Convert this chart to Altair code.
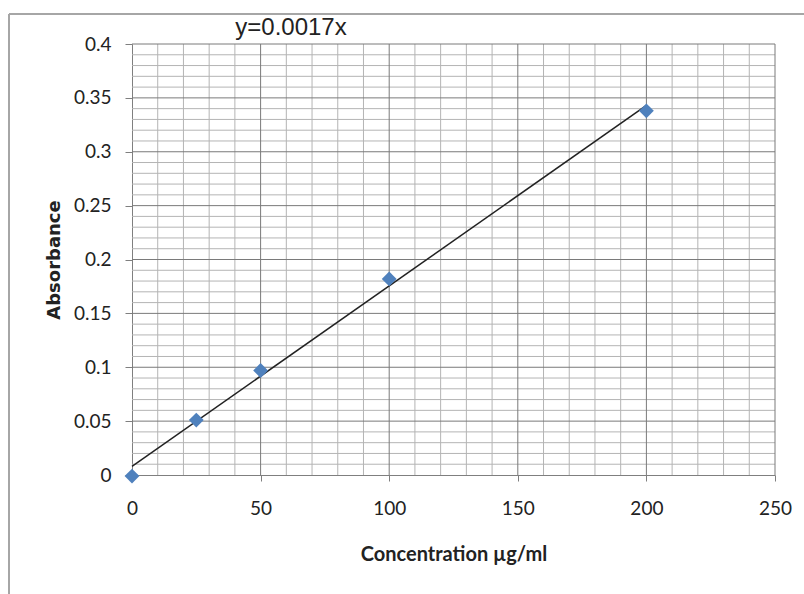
import altair as alt
import pandas as pd

# Measured data (concentration in µg/ml, absorbance)
conc = [0, 25, 50, 100, 200]
absorb = [-0.001, 0.051, 0.097, 0.182, 0.338]

# Linear trendline endpoints as drawn
trend_x = [0, 200]
trend_y = [0.008, 0.343]

# Axis ticks / grid positions
x_major = [0, 50, 100, 150, 200, 250]
x_minor = [v for v in range(10, 251, 10) if v % 50 != 0]
y_major = [0, 0.05, 0.1, 0.15, 0.2, 0.25, 0.3, 0.35, 0.4]
y_minor = [round(i / 100, 2) for i in range(1, 41) if i % 5 != 0]

equation_label = "y=0.0017x"

FONT = "Lato"
xs = alt.Scale(domain=[0, 250], nice=False, zero=False)
ys = alt.Scale(domain=[0, 0.4], nice=False, zero=False)

xaxis = alt.Axis(values=x_major, grid=False, domainColor="#7f7f7f", tickColor="#7f7f7f",
                 tickSize=6, labelFontSize=19, labelFont=FONT, labelColor="#222",
                 labelPadding=18, labelFlush=False, title="Concentration µg/ml", titleFont=FONT,
                 titleFontSize=20, titleFontWeight="bold", titleColor="#222",
                 titlePadding=26)
yaxis = alt.Axis(values=y_major, grid=False, domainColor="#7f7f7f", tickColor="#7f7f7f",
                 tickSize=7, labelFontSize=19, labelFont=FONT, labelColor="#222",
                 labelPadding=14, labelFlush=False, format=".2~f", title="Absorbance",
                 titleFont="DejaVu Sans", titleFontSize=18, titleFontWeight="bold",
                 titleColor="#222", titlePadding=10)

def X(field):
    return alt.X(field, type="quantitative", scale=xs, axis=xaxis)

def Y(field):
    return alt.Y(field, type="quantitative", scale=ys, axis=yaxis)

df_pts = pd.DataFrame({"conc": conc, "abs": absorb})
df_trend = pd.DataFrame({"conc": trend_x, "abs": trend_y})
df_xmin = pd.DataFrame({"conc": x_minor})
df_xmaj = pd.DataFrame({"conc": x_major[1:]})
df_ymin = pd.DataFrame({"abs": y_minor})
df_ymaj = pd.DataFrame({"abs": y_major[1:]})

xmin_l = alt.Chart(df_xmin).mark_rule(color="#b4b4b4", strokeWidth=1).encode(x=X("conc"))
ymin_l = alt.Chart(df_ymin).mark_rule(color="#b4b4b4", strokeWidth=1).encode(y=Y("abs"))
xmaj_l = alt.Chart(df_xmaj).mark_rule(color="#7a7a7a", strokeWidth=1).encode(x=X("conc"))
ymaj_l = alt.Chart(df_ymaj).mark_rule(color="#7a7a7a", strokeWidth=1).encode(y=Y("abs"))

trend = alt.Chart(df_trend).mark_line(color="#222", strokeWidth=1.5).encode(x=X("conc"), y=Y("abs"))
pts = alt.Chart(df_pts).mark_point(shape="diamond", filled=True, size=220, color="#4F81BD",
                                   opacity=1).encode(x=X("conc"), y=Y("abs"))

label = alt.Chart(pd.DataFrame({"t": [equation_label]})).mark_text(
    fontSize=24, font="Liberation Sans", color="#222", align="center",
    baseline="alphabetic").encode(x=alt.value(159), y=alt.value(-9), text="t:N")

border_left = alt.Chart(pd.DataFrame({"a": [0]})).mark_rule(color="#a6a6a6", strokeWidth=2).encode(
    x=alt.value(-123), y=alt.value(-30), y2=alt.value(560))
border_top = alt.Chart(pd.DataFrame({"a": [0]})).mark_rule(color="#a6a6a6", strokeWidth=2).encode(
    x=alt.value(-123), x2=alt.value(680), y=alt.value(-30))

chart = alt.layer(xmin_l, ymin_l, xmaj_l, ymaj_l, trend, pts, label, border_left, border_top).properties(
    width=643, height=431,
    autosize=alt.AutoSizeParams(type="none"),
    padding={"left": 132, "top": 44, "right": 29, "bottom": 119},
    background="white",
).configure_view(stroke=None)

chart.save("out.html", embed_options={"renderer": "svg", "actions": False})
